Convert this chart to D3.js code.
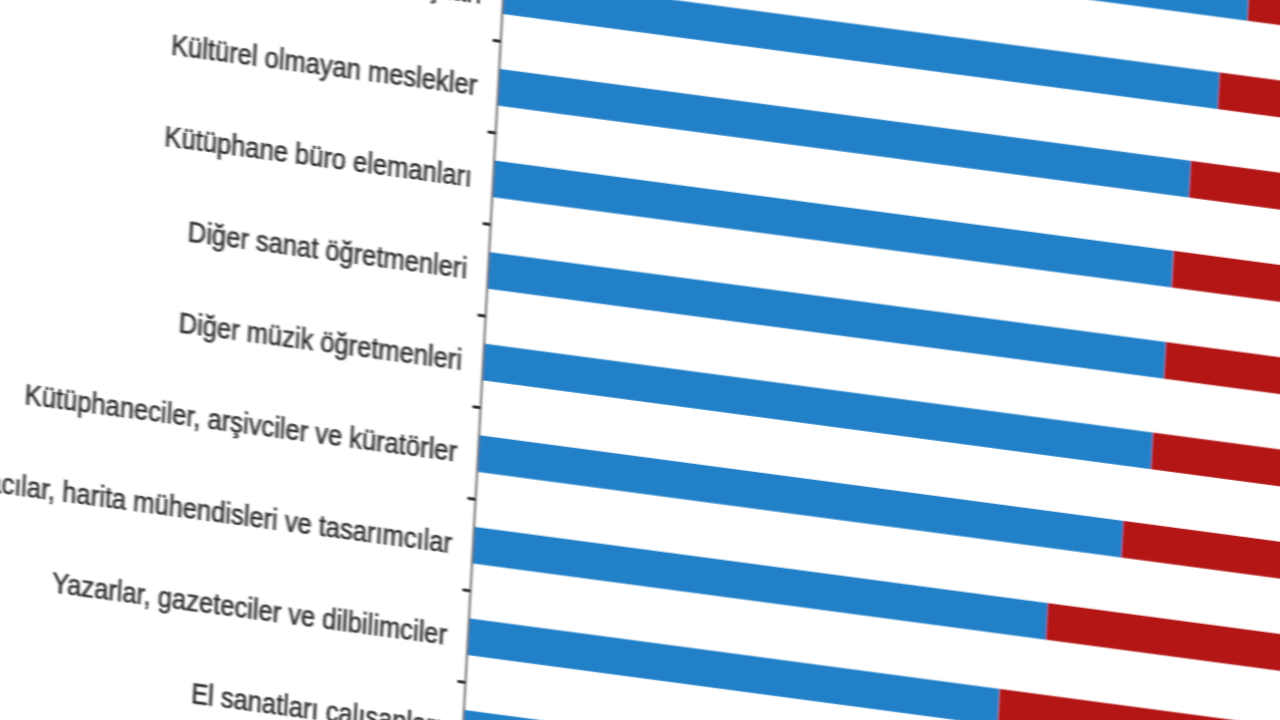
<!DOCTYPE html>
<html>
<head>
<meta charset="utf-8">
<script src="https://cdn.jsdelivr.net/npm/d3@7"></script>
<style>
  html, body { margin: 0; padding: 0; background: #ffffff; overflow: hidden; }
  svg { display: block; }
</style>
</head>
<body>
<svg id="chart" width="1280" height="720"></svg>
<script>
// ---- data ----
const categories = [
  "Müzisyenler, şarkıcılar ve besteciler",
  "Yaratıcı ve gösteri sanatçıları",
  "Kültürel olmayan meslekler",
  "Kütüphane büro elemanları",
  "Diğer sanat öğretmenleri",
  "Diğer müzik öğretmenleri",
  "Kütüphaneciler, arşivciler ve küratörler",
  "Mimarlar, planlamacılar, harita mühendisleri ve tasarımcılar",
  "Yazarlar, gazeteciler ve dilbilimciler",
  "El sanatları çalışanları"
];
const seriesNames = ["Seri 1", "Seri 2"];
const blueValues = [84.1, 81.3, 78.6, 77.2, 76.9, 76.0, 73.2, 65.2, 60.3, 52.0];
const redValues  = [15.9, 18.7, 21.4, 22.8, 23.1, 24.0, 26.8, 34.8, 39.7, 48.0];
const colors = ["#2380c8", "#b41616"];

// ---- build table for stacking ----
const table = categories.map((c, i) => ({ cat: c, s0: blueValues[i], s1: redValues[i] }));
const stack = d3.stack().keys(["s0", "s1"])(table);

const svg = d3.select("#chart");
svg.append("rect").attr("width", 1280).attr("height", 720).attr("fill", "#ffffff");

const defs = svg.append("defs");
const f = defs.append("filter").attr("id", "soft")
  .attr("filterUnits", "userSpaceOnUse")
  .attr("x", -800).attr("y", -400).attr("width", 2400).attr("height", 1600);
f.append("feGaussianBlur").attr("stdDeviation", "1.3 0.7");

// photographed / skewed view of the chart
const g = svg.append("g")
  .attr("transform", "matrix(1,0.133,-0.055,1,503,0)")
  .attr("filter", "url(#soft)");

const x = d3.scaleLinear().domain([0, 100]).range([0, 880]);
const y = d3.scaleBand().domain(categories).range([-141.8, 774]).paddingInner(0.6).paddingOuter(0.3);

// bars
g.selectAll("g.series").data(stack).join("g")
  .attr("class", "series")
  .attr("fill", (d, i) => colors[i])
  .selectAll("rect").data(d => d).join("rect")
  .attr("x", d => x(d[0]))
  .attr("width", d => x(d[1]) - x(d[0]))
  .attr("y", d => y(d.data.cat))
  .attr("height", y.bandwidth());

// category axis line
const r = y.range();
g.append("line")
  .attr("x1", 0).attr("x2", 0)
  .attr("y1", r[0]).attr("y2", r[1])
  .attr("stroke", "#6e6e6e").attr("stroke-width", 2);

// tick marks at category boundaries
const gap = y.step() * y.paddingInner() / 2;
g.selectAll("line.tick").data(categories).join("line")
  .attr("class", "tick")
  .attr("x1", -8).attr("x2", 0)
  .attr("y1", d => y(d) - gap).attr("y2", d => y(d) - gap)
  .attr("stroke", "#2a2a2a").attr("stroke-width", 3);

// category labels
g.selectAll("text.lbl").data(categories).join("text")
  .attr("class", "lbl")
  .attr("transform", d => `translate(-21,${y(d) + y.bandwidth() / 2}) scale(0.85,1)`)
  .attr("text-anchor", "end")
  .attr("dy", "0.35em")
  .attr("font-family", "'Liberation Sans', Arial, sans-serif")
  .attr("font-size", 30)
  .attr("fill", "#333333")
  .attr("stroke", "#333333")
  .attr("stroke-width", 0.6)
  .text(d => d);
</script>
</body>
</html>
